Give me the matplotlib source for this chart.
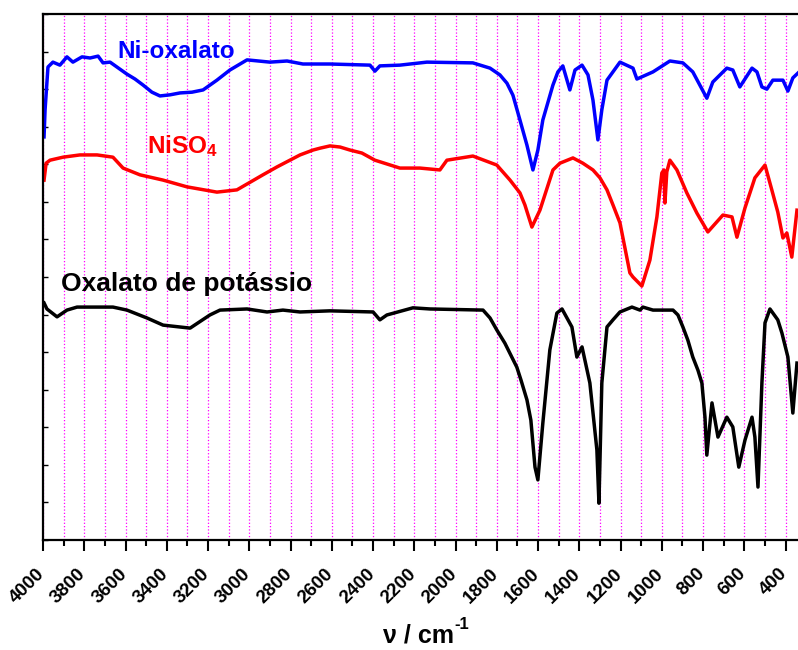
import numpy as np
import matplotlib
matplotlib.use('Agg')
import matplotlib.pyplot as plt
from matplotlib.ticker import MultipleLocator, NullFormatter
from matplotlib.transforms import ScaledTranslation

plt.rcParams['font.family'] = ['Liberation Sans', 'DejaVu Sans']
plt.rcParams['font.weight'] = 'bold'
plt.rcParams['mathtext.fontset'] = 'custom'
plt.rcParams['mathtext.rm'] = 'Liberation Sans:bold'
plt.rcParams['mathtext.bf'] = 'Liberation Sans:bold'
plt.rcParams['mathtext.default'] = 'rm'

# IR spectra, wavenumber (cm-1) vs. offset transmittance (arb. units)
wn_ni = [3995, 3990, 3976, 3952, 3918, 3884, 3855, 3811, 3772, 3733, 3709, 3675,
         3593, 3554, 3515, 3472, 3433, 3384, 3336, 3278, 3224, 3157, 3094, 3011,
         2900, 2817, 2740, 2609, 2415, 2391, 2367, 2270, 2139, 1916, 1833, 1785,
         1751, 1722, 1688, 1654, 1625, 1601, 1577, 1528, 1504, 1480, 1446, 1421,
         1387, 1358, 1334, 1310, 1291, 1266, 1203, 1140, 1121, 1043, 961, 898,
         850, 816, 782, 753, 685, 656, 622, 563, 539, 515, 491, 462, 413, 389, 365, 340]
t_ni = [10.73, 11.45, 12.59, 12.72, 12.64, 12.86, 12.72, 12.86, 12.83, 12.88, 12.70, 12.72,
        12.40, 12.27, 12.11, 11.92, 11.82, 11.85, 11.90, 11.92, 11.98, 12.24, 12.51, 12.78,
        12.72, 12.75, 12.67, 12.67, 12.64, 12.48, 12.62, 12.64, 12.72, 12.70, 12.56, 12.38,
        12.16, 11.84, 11.18, 10.51, 9.85, 10.38, 11.18, 12.11, 12.46, 12.62, 11.98, 12.51,
        12.64, 12.38, 11.71, 10.65, 11.45, 12.24, 12.72, 12.56, 12.27, 12.46, 12.75, 12.70,
        12.46, 12.11, 11.76, 12.19, 12.56, 12.51, 12.06, 12.56, 12.46, 12.06, 12.00, 12.24,
        12.24, 11.95, 12.30, 12.43]

wn_niso4 = [3995, 3985, 3966, 3903, 3821, 3738, 3661, 3612, 3530, 3418, 3302, 3157,
            3060, 2934, 2866, 2803, 2754, 2691, 2657, 2609, 2560, 2512, 2454, 2391,
            2270, 2173, 2076, 2042, 1916, 1800, 1736, 1688, 1664, 1630, 1591, 1528,
            1494, 1431, 1383, 1334, 1300, 1266, 1237, 1203, 1155, 1140, 1097, 1058,
            1024, 1000, 990, 985, 976, 961, 927, 879, 830, 777, 704, 660, 636, 597,
            549, 500, 467, 438, 413, 394, 370, 345]
t_niso4 = [9.58, 10.03, 10.11, 10.19, 10.25, 10.25, 10.19, 9.90, 9.72, 9.58, 9.40, 9.26,
           9.32, 9.72, 9.93, 10.11, 10.25, 10.38, 10.43, 10.49, 10.46, 10.38, 10.30, 10.11,
           9.90, 9.90, 9.85, 10.11, 10.22, 9.98, 9.58, 9.24, 8.92, 8.33, 8.78, 9.85,
           10.03, 10.17, 10.03, 9.85, 9.64, 9.32, 8.92, 8.44, 7.11, 7.00, 6.76, 7.45,
           8.60, 9.77, 9.85, 8.97, 9.80, 10.11, 9.85, 9.24, 8.70, 8.20, 8.65, 8.60, 8.06, 8.84,
           9.64, 9.98, 9.32, 8.73, 8.04, 8.17, 7.53, 8.78]

wn_kox = [3995, 3981, 3932, 3884, 3835, 3738, 3661, 3593, 3496, 3418, 3287, 3191,
          3142, 3011, 2914, 2837, 2754, 2609, 2400, 2367, 2333, 2207, 2124, 1867,
          1833, 1800, 1761, 1703, 1683, 1654, 1635, 1615, 1601, 1577, 1543, 1509,
          1484, 1436, 1412, 1387, 1349, 1315, 1305, 1291, 1266, 1237, 1203, 1145,
          1106, 1092, 1043, 946, 922, 898, 874, 850, 825, 806, 791, 782, 757, 728,
          685, 656, 627, 597, 563, 549, 534, 515, 500, 476, 438, 418, 389, 365, 345]
t_kox = [6.31, 6.15, 5.94, 6.12, 6.20, 6.20, 6.20, 6.12, 5.91, 5.72, 5.64, 5.99,
         6.12, 6.15, 6.07, 6.12, 6.07, 6.10, 6.07, 5.86, 5.99, 6.18, 6.15, 6.12,
         5.91, 5.59, 5.24, 4.60, 4.26, 3.73, 3.19, 1.94, 1.60, 3.11, 5.06, 6.04,
         6.15, 5.67, 4.87, 5.14, 4.18, 2.40, 0.98, 4.18, 5.67, 5.86, 6.07, 6.20,
         6.12, 6.20, 6.12, 6.12, 5.99, 5.67, 5.32, 4.87, 4.52, 4.18, 3.27, 2.26, 3.65, 2.74,
         3.27, 3.01, 1.94, 2.66, 3.27, 2.74, 1.41, 4.18, 5.78, 6.15, 5.86, 5.51, 4.87, 3.38, 4.71]

fig = plt.figure(figsize=(7.98, 6.5), dpi=100)
ax = fig.add_axes([0.0539, 0.1692, 0.9461, 0.8092])

ax.plot(wn_ni, t_ni, color='#0000FF', lw=2.5)
ax.plot(wn_niso4, t_niso4, color='#FF0000', lw=2.5)
ax.plot(wn_kox, t_kox, color='black', lw=2.5)

ax.text(3641, 12.83, 'Ni-oxalato', color='#0000FF', fontsize=17.5, fontweight='bold', va='baseline')
ax.text(3496, 10.30, r'NiSO$_4$', color='#FF0000', fontsize=17.5, fontweight='bold', va='baseline')
ax.text(3913, 6.63, 'Oxalato de potássio', color='black', fontsize=19, fontweight='bold', va='baseline')

ax.set_xlim(4000, 340)
ax.set_ylim(0, 14)
ax.xaxis.set_major_locator(MultipleLocator(200))
ax.xaxis.set_minor_locator(MultipleLocator(100))
ax.yaxis.set_major_locator(MultipleLocator(1))
ax.yaxis.set_major_formatter(NullFormatter())
ax.grid(which='both', axis='x', color='#FF00FF', linestyle=':', lw=0.9)

ax.tick_params(axis='x', which='major', direction='out', length=8, width=1.5, pad=10, labelsize=13.5)
ax.tick_params(axis='x', which='minor', direction='out', length=4.5, width=1.5)
ax.tick_params(axis='y', which='major', direction='in', length=3.5, width=1)
shift = ScaledTranslation(5 / 100, 0, fig.dpi_scale_trans)
for lbl in ax.get_xticklabels():
    lbl.set_rotation(45)
    lbl.set_ha('right')
    lbl.set_fontweight('bold')
    lbl.set_transform(lbl.get_transform() + shift)

for s in ['left', 'bottom', 'top']:
    ax.spines[s].set_linewidth(1.6)
ax.spines['right'].set_visible(False)

# axis title, exponent written with a plain hyphen
xt = fig.text(0.48, 0.0108, 'ν / cm', fontsize=18, fontweight='bold', ha='left', va='baseline')
fig.canvas.draw()
bb = xt.get_window_extent().transformed(fig.transFigure.inverted())
fig.text(bb.x1 + 0.001, 0.0323, '-1', fontsize=12, fontweight='bold', ha='left', va='baseline')

fig.savefig('out.png', dpi=100)
